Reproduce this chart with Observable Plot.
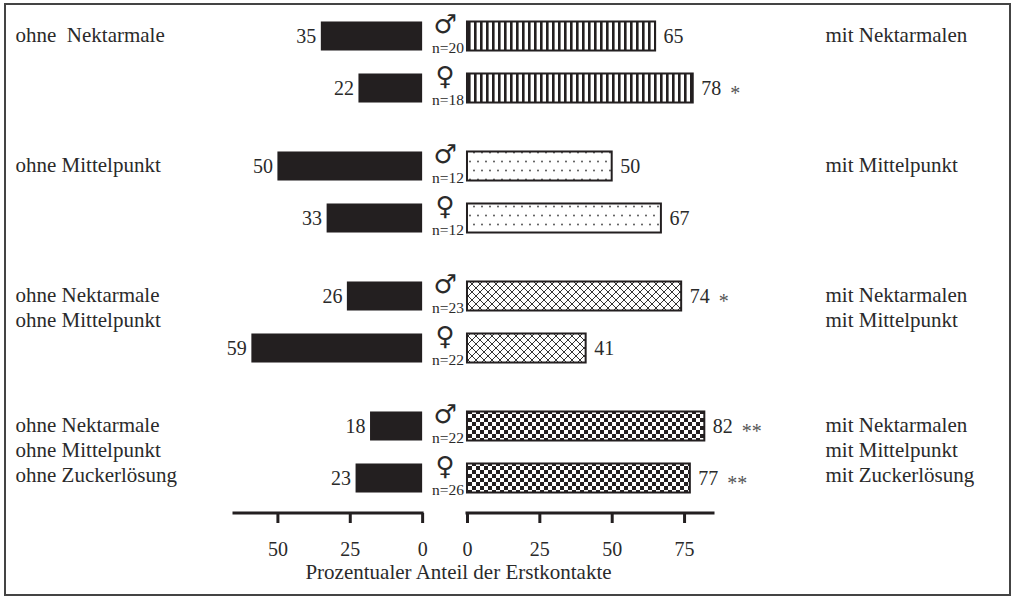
<!DOCTYPE html>
<html>
<head>
<meta charset="utf-8">
<script src="https://cdn.jsdelivr.net/npm/d3@7"></script>
<script src="https://cdn.jsdelivr.net/npm/@observablehq/plot@0.6"></script>
<style>
  body { margin: 0; background: #fff; }
  #chart { width: 1014px; height: 598px; }
</style>
</head>
<body>
<div id="chart"></div>
<script>
// ---------- data ----------
const groups = ["NM", "MP", "NM+MP", "NM+MP+ZL"];
const leftLabels = [
  "ohne  Nektarmale",
  "ohne Mittelpunkt",
  "ohne Nektarmale\nohne Mittelpunkt",
  "ohne Nektarmale\nohne Mittelpunkt\nohne Zuckerlösung"
];
const rightLabels = [
  "mit Nektarmalen",
  "mit Mittelpunkt",
  "mit Nektarmalen\nmit Mittelpunkt",
  "mit Nektarmalen\nmit Mittelpunkt\nmit Zuckerlösung"
];
const patterns = ["stripes", "dots", "cross", "checker"];
const sexes = ["♂", "♀"];

const rowGroup = ["NM", "NM", "MP", "MP", "NM+MP", "NM+MP", "NM+MP+ZL", "NM+MP+ZL"];
const rowSex = ["♂", "♀", "♂", "♀", "♂", "♀", "♂", "♀"];
const rowN = [20, 18, 12, 12, 23, 22, 22, 26];
const ohneValues = [35, 22, 50, 33, 26, 59, 18, 23];
const mitValues = [65, 78, 50, 67, 74, 41, 82, 77];
const significance = ["", "*", "", "", "*", "", "**", "**"];

const leftTicks = [50, 25, 0];
const rightTicks = [0, 25, 50, 75];
const leftAxisMax = 65;
const rightAxisMax = 85;
const axisTitle = "Prozentualer Anteil der Erstkontakte";

// ---------- derived tables ----------
const GAP = 15.5; // gap between the two half-axes, in axis units
const rows = rowGroup.map((g, i) => ({
  group: g,
  sex: rowSex[i],
  n: rowN[i],
  ohne: ohneValues[i],
  mit: mitValues[i],
  sig: significance[i],
  pattern: patterns[groups.indexOf(g)]
}));
const groupRows = groups.map((g, i) => ({group: g, left: leftLabels[i], right: rightLabels[i]}));
const leftPos = (v) => -GAP - v;
const tickValues = [...leftTicks.map(leftPos), ...rightTicks];
const tickLabels = new Map([
  ...leftTicks.map((t) => [leftPos(t), String(t)]),
  ...rightTicks.map((t) => [t, String(t)])
]);
const lastGroup = groups[groups.length - 1];
const axisSegments = [
  {x1: leftPos(leftAxisMax), x2: leftPos(0)},
  {x1: 0, x2: rightAxisMax}
];

const ink = "#231f20";
const textColor = "#2a2a2a";
const serif = "Liberation Serif, Times New Roman, serif";

const plot = Plot.plot({
  width: 1014,
  height: 598,
  marginTop: 1,
  marginBottom: 85,
  marginLeft: 0,
  marginRight: 0,
  style: {fontFamily: serif, color: textColor, background: "white"},
  x: {domain: [leftPos(leftAxisMax), rightAxisMax], range: [234, 713], axis: null},
  y: {domain: sexes, paddingInner: 0.442, paddingOuter: 0.394, round: false, axis: null},
  fy: {domain: groups, paddingInner: 0.0615, paddingOuter: 0, round: false, axis: null},
  color: {type: "identity"},
  marks: [
    // left (ohne) bars
    Plot.barX(rows, {x1: (d) => leftPos(d.ohne), x2: () => leftPos(0), y: "sex", fy: "group", fill: ink}),
    // right (mit) bars with patterns
    Plot.barX(rows, {x1: () => 0, x2: "mit", y: "sex", fy: "group",
      fill: (d) => `url(#${d.pattern})`, stroke: ink, strokeWidth: 2}),
    // values
    Plot.text(rows, {x: (d) => leftPos(d.ohne), y: "sex", fy: "group", text: (d) => String(d.ohne),
      textAnchor: "end", dx: -5, fontSize: 20, fill: textColor}),
    Plot.text(rows, {x: "mit", y: "sex", fy: "group", text: (d) => String(d.mit),
      textAnchor: "start", dx: 8, fontSize: 20, fill: textColor}),
    Plot.text(rows.filter((d) => d.sig), {x: "mit", y: "sex", fy: "group", text: "sig",
      textAnchor: "start", dx: 37, dy: 5, fontSize: 20, fill: "#555"}),
    // sex symbols and n
    Plot.text(rows, {x: () => -GAP / 2, y: "sex", fy: "group", text: "sex",
      fontFamily: "DejaVu Sans", fontSize: 26, dy: -12, fill: textColor}),
    Plot.text(rows, {x: () => -GAP / 2, y: "sex", fy: "group", text: (d) => `n=${d.n}`,
      lineAnchor: "bottom", dy: 16.5, dx: 3, fontSize: 15.5, fill: textColor}),
    // group labels
    Plot.text(groupRows, {fy: "group", y: () => sexes[0], text: "left", frameAnchor: "left",
      dx: 15, textAnchor: "start", lineAnchor: "top", lineHeight: 1.19, dy: -12, fontSize: 21, fill: textColor}),
    Plot.text(groupRows, {fy: "group", y: () => sexes[0], text: "right", frameAnchor: "left",
      dx: 825, textAnchor: "start", lineAnchor: "top", lineHeight: 1.19, dy: -12, fontSize: 21, fill: textColor}),
    // axis lines
    Plot.rect(axisSegments, {x1: "x1", x2: "x2", fy: () => lastGroup, fill: ink,
      insetTop: 120.5, insetBottom: -1.5, insetLeft: -1.5, insetRight: -1.5}),
    Plot.axisX({ticks: tickValues, tickFormat: (d) => tickLabels.get(d), tickSize: 10, tickPadding: 18,
      fontSize: 20, strokeWidth: 3, stroke: ink, fill: textColor}),
    // axis title
    Plot.text([axisTitle], {fy: () => lastGroup, text: (d) => d, frameAnchor: "bottom",
      dx: -49, dy: 65, lineAnchor: "bottom", fontSize: 21, fill: textColor})
  ]
});

// pattern definitions for the bars
const svg = d3.select(plot);
const defs = svg.insert("defs", ":first-child");
const stripes = defs.append("pattern").attr("id", "stripes").attr("patternUnits", "userSpaceOnUse")
  .attr("width", 6).attr("height", 6);
stripes.append("rect").attr("width", 6).attr("height", 6).attr("fill", "white");
stripes.append("rect").attr("width", 2.6).attr("height", 6).attr("fill", ink);

const dots = defs.append("pattern").attr("id", "dots").attr("patternUnits", "userSpaceOnUse")
  .attr("width", 8).attr("height", 18);
dots.append("rect").attr("width", 8).attr("height", 18).attr("fill", "white");
dots.append("circle").attr("cx", 2).attr("cy", 4.5).attr("r", 0.9).attr("fill", "#444");
dots.append("circle").attr("cx", 6).attr("cy", 13.5).attr("r", 0.9).attr("fill", "#444");

const cross = defs.append("pattern").attr("id", "cross").attr("patternUnits", "userSpaceOnUse")
  .attr("width", 8).attr("height", 8);
cross.append("rect").attr("width", 8).attr("height", 8).attr("fill", "white");
cross.append("path").attr("d", "M0,0L8,8M8,0L0,8").attr("stroke", "#333").attr("stroke-width", 1).attr("fill", "none");

const checker = defs.append("pattern").attr("id", "checker").attr("patternUnits", "userSpaceOnUse")
  .attr("width", 8).attr("height", 8);
checker.append("rect").attr("width", 8).attr("height", 8).attr("fill", "white");
checker.append("rect").attr("width", 4).attr("height", 4).attr("fill", ink);
checker.append("rect").attr("x", 4).attr("y", 4).attr("width", 4).attr("height", 4).attr("fill", ink);

// outer border
svg.append("rect").attr("x", 5).attr("y", 4).attr("width", 1005).attr("height", 591)
  .attr("fill", "none").attr("stroke", "#444").attr("stroke-width", 2);

document.getElementById("chart").appendChild(plot);
</script>
</body>
</html>
